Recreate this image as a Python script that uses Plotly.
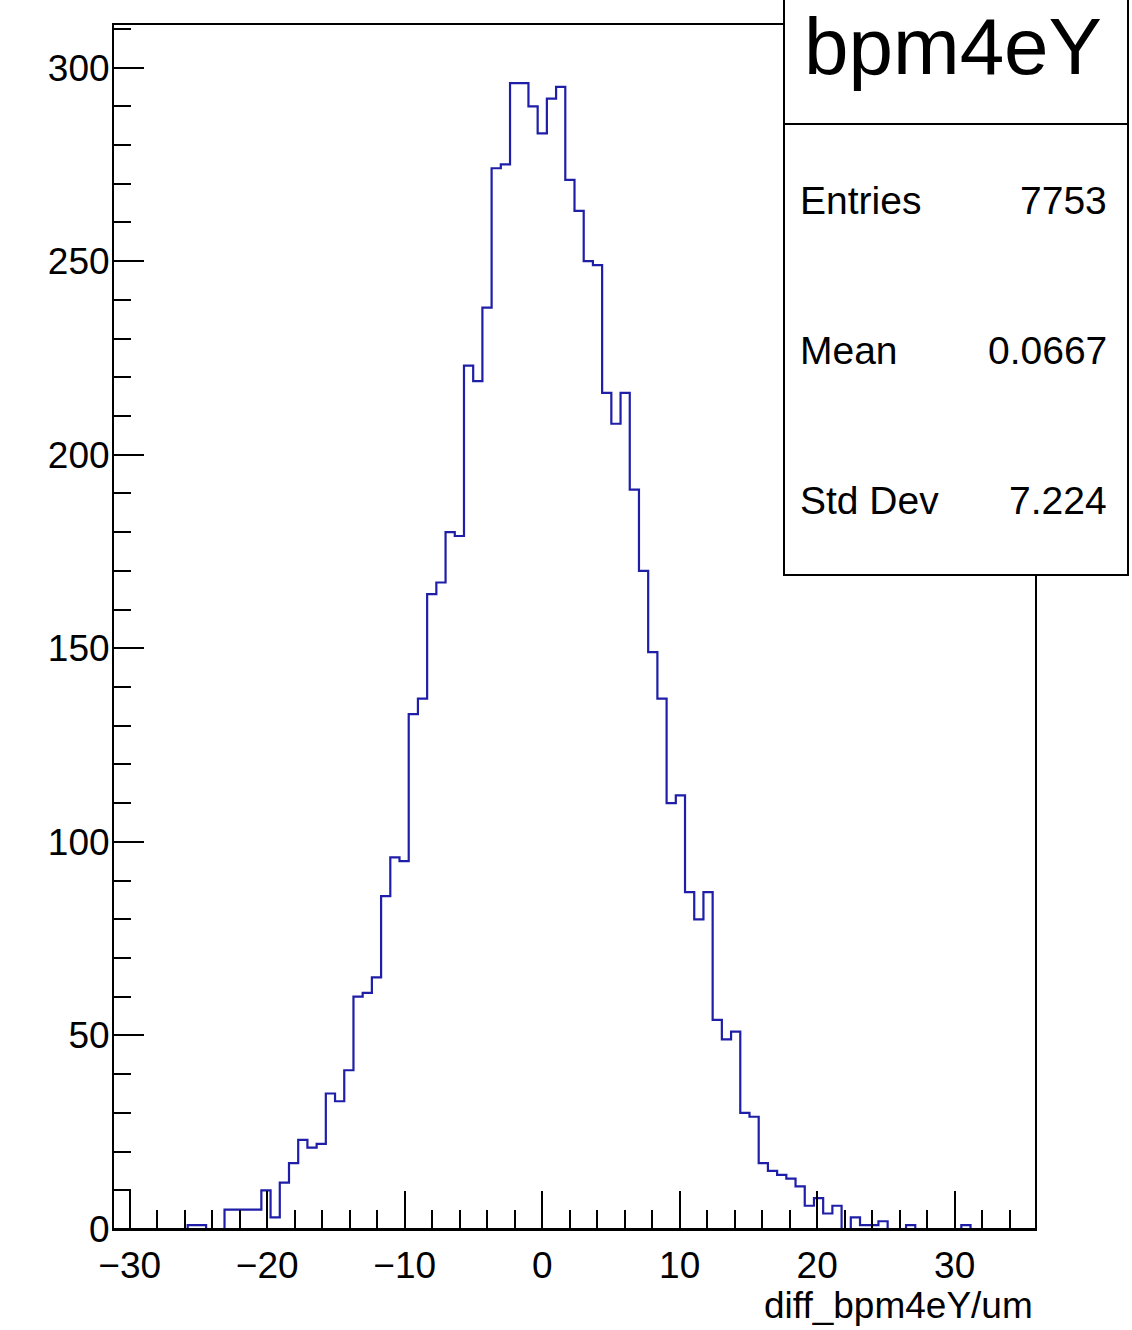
import plotly.graph_objects as go

# ---------------- data ----------------
hist_title = "bpm4eY"
x_title = "diff_bpm4eY/um"
x_min, x_max = -31.14, 35.84
n_bins = 100
counts = [
    0, 0, 0, 0, 0, 0, 0, 0, 1, 1,
    0, 0, 5, 5, 5, 5, 10, 3, 12, 17,
    23, 21, 22, 35, 33, 41, 60, 61, 65, 86,
    96, 95, 133, 137, 164, 167, 180, 179, 223, 219,
    238, 274, 275, 296, 296, 290, 283, 292, 295, 271,
    263, 250, 249, 216, 208, 216, 191, 170, 149, 137,
    110, 112, 87, 80, 87, 54, 49, 51, 30, 29,
    17, 15, 14, 13, 11, 6, 8, 4, 6, 0,
    3, 1, 1, 2, 0, 0, 1, 0, 0, 0,
    0, 0, 1, 0, 0, 0, 0, 0, 0, 0,
]
y_max = 311.0
x_tickvals = [-30, -20, -10, 0, 10, 20, 30]
x_ticktext = ["\u221230", "\u221220", "\u221210", "0", "10", "20", "30"]
y_tickvals = [0, 50, 100, 150, 200, 250, 300]
y_ticktext = ["0", "50", "100", "150", "200", "250", "300"]
stat_names = ["Entries", "Mean", "Std Dev"]
stat_values = ["7753", "0.0667", "7.224"]

# ---------------- geometry ----------------
W, H = 1132, 1330
L, R, T, B = 114, 1035, 25, 1229  # frame in pixels


def px_x(p):
    return (p - L) / (R - L)


def px_y(p):
    return (B - p) / (B - T)


bw = (x_max - x_min) / n_bins
edges = [x_min + i * bw for i in range(n_bins + 1)]
xs = [edges[0]] + edges
ys = [0] + counts + [0]

FONT = "Liberation Sans, Arial, Helvetica, sans-serif"

fig = go.Figure()
fig.add_trace(go.Scatter(
    x=xs, y=ys, mode="lines", line=dict(shape="hv", color="#1e1ea8", width=2.2),
    hoverinfo="skip", showlegend=False,
))

axis_common = dict(
    showgrid=False, zeroline=False, showline=True, linecolor="black", linewidth=2,
    mirror=True, ticks="inside", tickcolor="black", tickwidth=2,
    tickfont=dict(family=FONT, size=37, color="black"),
)

fig.update_xaxes(
    **axis_common, range=[x_min, x_max], tickmode="array",
    tickvals=x_tickvals, ticktext=x_ticktext, ticklen=38, ticklabelstandoff=3,
    minor=dict(dtick=2, tick0=0, ticks="inside", ticklen=19, tickcolor="black", tickwidth=2),
)
fig.update_yaxes(
    **axis_common, range=[0, y_max], tickmode="array",
    tickvals=y_tickvals, ticktext=y_ticktext, ticklen=30, ticklabelstandoff=-5,
    minor=dict(dtick=10, tick0=0, ticks="inside", ticklen=17, tickcolor="black", tickwidth=2),
)

# keep the bottom axis line black over the empty bins (as in ROOT)
fig.add_shape(type="line", xref="paper", yref="paper", x0=0, x1=1, y0=0, y1=0,
              line=dict(color="black", width=2.2), layer="above")

# stats box
fig.add_shape(type="rect", xref="paper", yref="paper",
              x0=px_x(784), x1=px_x(1128), y0=px_y(575), y1=px_y(-3),
              line=dict(color="black", width=2), fillcolor="white", layer="above")
fig.add_shape(type="line", xref="paper", yref="paper",
              x0=px_x(784), x1=px_x(1128), y0=px_y(124), y1=px_y(124),
              line=dict(color="black", width=2), layer="above")

fig.add_annotation(text=hist_title, xref="paper", yref="paper",
                   x=px_x(953), y=px_y(46), xanchor="center", yanchor="middle",
                   showarrow=False, font=dict(family=FONT, size=80, color="black"))

stat_y = [200, 350, 500]
for name, val, yy in zip(stat_names, stat_values, stat_y):
    fig.add_annotation(text=name, xref="paper", yref="paper",
                       x=px_x(798), y=px_y(yy), xanchor="left", yanchor="middle",
                       showarrow=False, font=dict(family=FONT, size=39, color="black"))
    fig.add_annotation(text=val, xref="paper", yref="paper",
                       x=px_x(1109), y=px_y(yy), xanchor="right", yanchor="middle",
                       showarrow=False, font=dict(family=FONT, size=39, color="black"))

# x-axis title (right aligned like ROOT)
fig.add_annotation(text=x_title, xref="paper", yref="paper",
                   x=px_x(1035), y=px_y(1305), xanchor="right", yanchor="middle",
                   showarrow=False, font=dict(family=FONT, size=37, color="black"))

fig.update_layout(
    width=W, height=H, autosize=False,
    margin=dict(l=L, r=W - R, t=T, b=H - B, pad=0),
    paper_bgcolor="white", plot_bgcolor="white",
    showlegend=False,
)

# remove the default 8px page margin so the figure sits at the window origin
fig.write_html("out.html", config={"displayModeBar": False},
               post_script="document.body.style.margin='0';document.body.style.overflow='hidden';")
